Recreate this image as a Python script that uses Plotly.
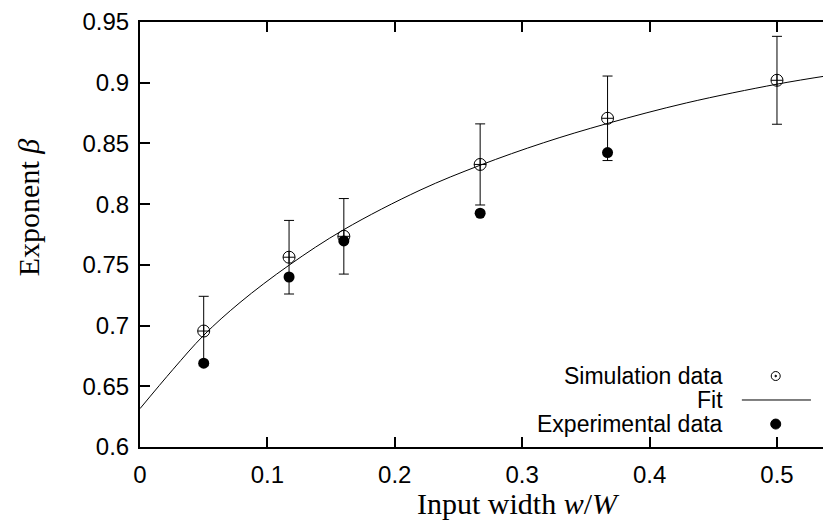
import plotly.graph_objects as go

# simulation data (open circles with error bars)
sim_x = [0.05, 0.117, 0.160, 0.267, 0.367, 0.5]
sim_y = [0.6955, 0.7563, 0.7735, 0.8327, 0.8707, 0.902]
sim_err = [0.0286, 0.0303, 0.0311, 0.0334, 0.0348, 0.0362]

# experimental data (filled dots)
exp_x = [0.05, 0.117, 0.160, 0.267, 0.367]
exp_y = [0.669, 0.740, 0.7697, 0.7925, 0.8425]

# fit curve
fit_x = [0, 0.026, 0.05, 0.0785, 0.117, 0.160, 0.2198, 0.2669, 0.3166, 0.3668, 0.4291, 0.5, 0.5424]
fit_y = [0.6316, 0.664, 0.692, 0.719, 0.7497, 0.779, 0.8115, 0.832, 0.8505, 0.8664, 0.8834, 0.8988, 0.9062]

x_ticks = [0, 0.1, 0.2, 0.3, 0.4, 0.5]
y_ticks = [0.6, 0.65, 0.7, 0.75, 0.8, 0.85, 0.9, 0.95]

legend_labels = ["Simulation data", "Fit", "Experimental data"]

sans = "Liberation Sans, Arial, sans-serif"
serif = "Liberation Serif, Times New Roman, serif"

fig = go.Figure()

fig.add_trace(go.Scatter(x=fit_x, y=fit_y, mode="lines", line=dict(color="black", width=1, shape="spline"),
                         hoverinfo="skip"))
fig.add_trace(go.Scatter(x=sim_x, y=sim_y, mode="markers",
                         marker=dict(symbol="circle-cross-open", size=12, color="black", line=dict(width=1)),
                         error_y=dict(type="data", array=sim_err, color="black", thickness=1, width=5)))
fig.add_trace(go.Scatter(x=exp_x, y=exp_y, mode="markers",
                         marker=dict(symbol="circle", size=11, color="black")))

fig.update_xaxes(range=[0, 0.5424], tickvals=x_ticks, ticktext=[f"{v:g}" for v in x_ticks],
                 showline=True, linecolor="black", linewidth=2, mirror="ticks",
                 ticks="inside", ticklen=10, tickwidth=1.5, tickcolor="black", ticklabelstandoff=5,
                 showgrid=False, zeroline=False, tickfont=dict(family=sans, size=24, color="black"))
fig.update_yaxes(range=[0.6, 0.95], tickvals=y_ticks, ticktext=[f"{v:g}" for v in y_ticks],
                 showline=True, linecolor="black", linewidth=2,
                 ticks="inside", ticklen=10, tickwidth=1.5, tickcolor="black", ticklabelstandoff=4,
                 showgrid=False, zeroline=False, tickfont=dict(family=sans, size=24, color="black"))

# axis titles
annotations = [
    dict(text="Input width <i>w</i>/<i>W</i>", x=0.548, y=-0.132, xref="paper", yref="paper",
         xanchor="center", yanchor="middle",
         showarrow=False, font=dict(family=serif, size=30, color="black")),
    dict(text="Exponent <i>β</i>", x=-0.162, y=0.562, xref="paper", yref="paper", textangle=-90,
         xanchor="center", yanchor="middle",
         showarrow=False, font=dict(family=serif, size=30, color="black")),
]

# hand-made key: text right aligned, sample on the right
key_y = [0.167, 0.1106, 0.054]
for lab, ky in zip(legend_labels, key_y):
    annotations.append(dict(text=lab, x=0.8466, y=ky, xref="paper", yref="paper",
                            xanchor="right", yanchor="middle",
                            showarrow=False, font=dict(family=sans, size=23, color="black")))

shapes = [
    dict(type="circle", xref="paper", yref="paper", xsizemode="pixel", ysizemode="pixel",
         xanchor=0.920, yanchor=key_y[0], x0=-4.5, x1=4.5, y0=-4.5, y1=4.5,
         line=dict(color="black", width=1)),
    dict(type="circle", xref="paper", yref="paper", xsizemode="pixel", ysizemode="pixel",
         xanchor=0.920, yanchor=key_y[0], x0=-0.8, x1=0.8, y0=-0.8, y1=0.8,
         line=dict(color="black", width=1), fillcolor="black"),
    dict(type="line", xref="paper", yref="paper", x0=0.871, x1=0.971, y0=key_y[1], y1=key_y[1],
         line=dict(color="black", width=1)),
    dict(type="circle", xref="paper", yref="paper", xsizemode="pixel", ysizemode="pixel",
         xanchor=0.920, yanchor=key_y[2], x0=-5, x1=5, y0=-5, y1=5,
         line=dict(color="black", width=1), fillcolor="black"),
]

# page body has an 8px margin, so the figure is 8px smaller than the window
fig.update_layout(width=823, height=512, showlegend=False,
                  margin=dict(l=132, r=0, t=14, b=73, autoexpand=False),
                  plot_bgcolor="white", paper_bgcolor="white",
                  annotations=annotations, shapes=shapes)

fig.write_html("out.html")
